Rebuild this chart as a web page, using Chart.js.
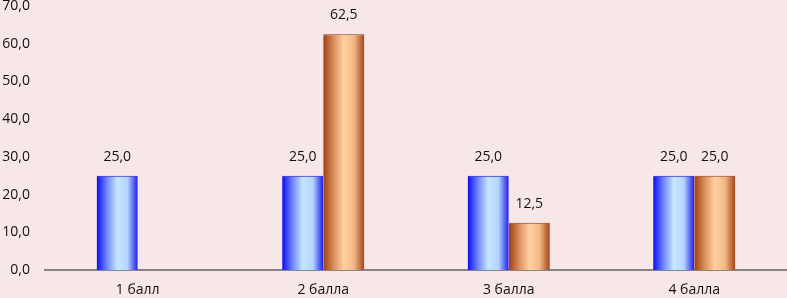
<!DOCTYPE html>
<html>
<head>
<meta charset="utf-8">
<script src="https://cdn.jsdelivr.net/npm/chart.js@4/dist/chart.umd.min.js"></script>
<style>
  html, body { margin: 0; padding: 0; background: #f8e7e7; }
  #wrap { width: 787px; height: 298px; position: relative; }
</style>
</head>
<body>
<div id="wrap"><canvas id="chart"></canvas></div>
<script>
const categories = ['1 балл', '2 балла', '3 балла', '4 балла'];
const seriesBlue = [25, 25, 25, 25];
const seriesOrange = [null, 62.5, 12.5, 25];
const yTicks = [0, 10, 20, 30, 40, 50, 60, 70];

const fmt = v => v.toFixed(1).replace('.', ',');

// horizontal "cylinder" gradient per bar, dark edges / light centre
const gradients = [
    ['#0c0cf0', '#6f86ff', '#c7e6ff', '#b5d4ff', '#1e1ee8'],
    ['#9c3f14', '#d98e5c', '#ffd0a0', '#f2b785', '#a2451a']
];

const gradientBars = {
    id: 'gradientBars',
    beforeDatasetsDraw(chart) {
        const ctx = chart.ctx;
        chart.data.datasets.forEach((ds, di) => {
            const meta = chart.getDatasetMeta(di);
            meta.data.forEach(el => {
                if (el.width == null || isNaN(el.y)) return;
                const x0 = el.x - el.width / 2, x1 = el.x + el.width / 2;
                const g = ctx.createLinearGradient(x0, 0, x1, 0);
                const stops = gradients[di];
                stops.forEach((c, i) => g.addColorStop(i / (stops.length - 1), c));
                el.options.backgroundColor = g;
            });
        });
    }
};

const valueLabels = {
    id: 'valueLabels',
    afterDatasetsDraw(chart) {
        const ctx = chart.ctx;
        ctx.save();
        ctx.font = '14px "Open Sans"';
        ctx.fillStyle = '#111';
        ctx.textAlign = 'center';
        ctx.textBaseline = 'middle';
        chart.data.datasets.forEach((ds, di) => {
            chart.getDatasetMeta(di).data.forEach((el, i) => {
                const v = ds.data[i];
                if (v == null) return;
                ctx.fillText(fmt(v), el.x, el.y - 19);
            });
        });
        ctx.restore();
    }
};

new Chart(document.getElementById('chart'), {
    type: 'bar',
    data: {
        labels: categories,
        datasets: [
            { data: seriesBlue, backgroundColor: () => '#3030ff',
              borderWidth: { top: 1, left: 0, right: 0, bottom: 0 }, borderColor: '#1010c0', borderSkipped: 'start' },
            { data: seriesOrange, backgroundColor: () => '#e0a070',
              borderWidth: { top: 1, left: 0, right: 0, bottom: 0 }, borderColor: '#8a3a14', borderSkipped: 'start' }
        ]
    },
    options: {
        responsive: true,
        maintainAspectRatio: false,
        animation: false,
        layout: { autoPadding: false, padding: 0 },
        plugins: { legend: { display: false }, tooltip: { enabled: false } },
        datasets: { bar: { categoryPercentage: 0.443, barPercentage: 1 } },
        scales: {
            x: {
                afterFit: s => { s.height = 28; },
                grid: { display: false, drawTicks: false },
                border: { display: true, color: '#858585', width: 2 },
                ticks: { color: '#111', font: { family: 'Open Sans', size: 14 }, padding: 12 }
            },
            y: {
                min: 0,
                max: 70,
                afterBuildTicks: s => { s.ticks = yTicks.map(v => ({ value: v })); },
                afterFit: s => { s.width = 45; s.paddingTop = 6; s.paddingBottom = 0; },
                grid: { display: false, drawTicks: false },
                border: { display: false },
                ticks: {
                    color: '#111',
                    font: { family: 'Open Sans', size: 14 },
                    padding: 15,
                    callback: v => fmt(v)
                }
            }
        }
    },
    plugins: [gradientBars, valueLabels]
});
</script>
</body>
</html>
